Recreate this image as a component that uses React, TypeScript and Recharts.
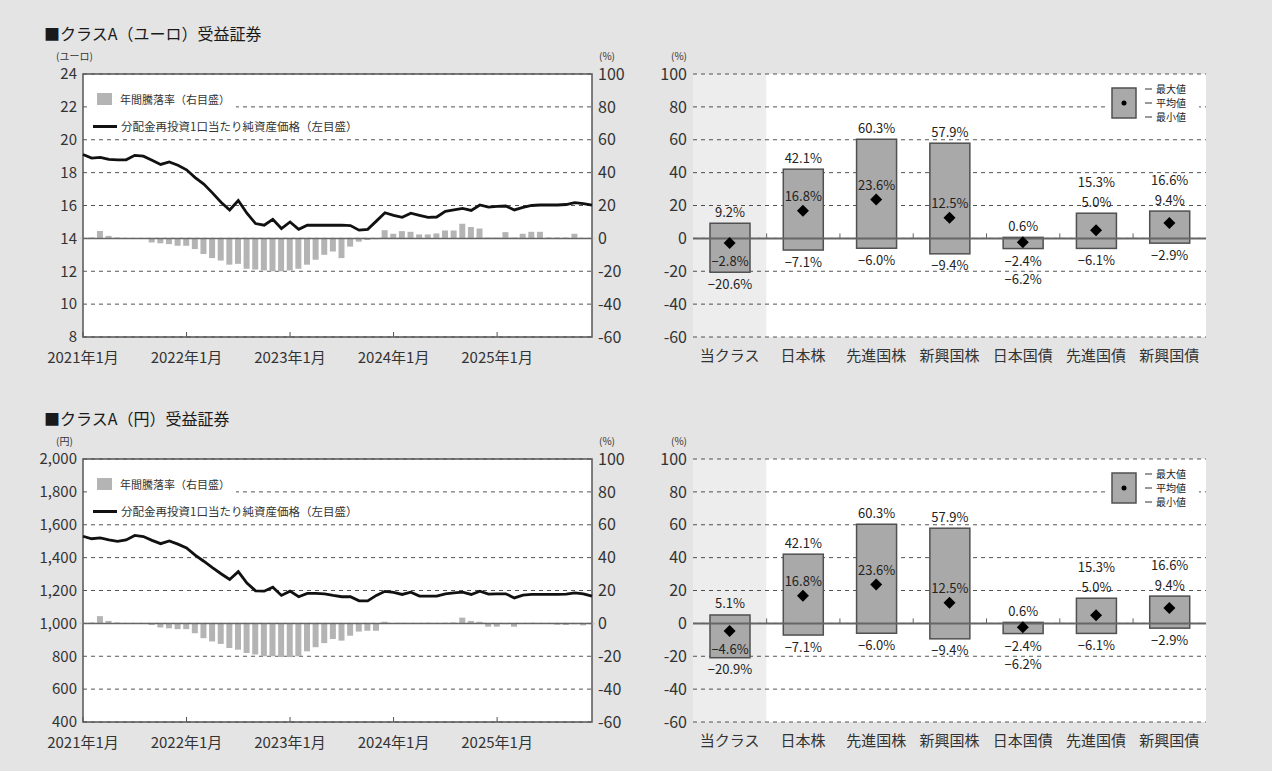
import React from 'react';
import {
  ComposedChart,
  Bar,
  Line,
  XAxis,
  YAxis,
  CartesianGrid,
  ReferenceLine,
  ReferenceArea,
} from 'recharts';

// ---------- data ----------
const monthTickIndex = [0, 12, 24, 36, 48];
const monthTickLabels = ['2021年1月', '2022年1月', '2023年1月', '2024年1月', '2025年1月'];

// クラスA（ユーロ）: NAV (left axis, ユーロ) and annual return (right axis, %)
const eurNav = [
  19.1, 18.88, 18.93, 18.8, 18.77, 18.78, 19.05, 19.0, 18.75, 18.5,
  18.65, 18.45, 18.17, 17.7, 17.3, 16.77, 16.2, 15.73, 16.3, 15.53,
  14.9, 14.8, 15.16, 14.6, 15.0, 14.55, 14.8, 14.8, 14.8, 14.8,
  14.8, 14.78, 14.5, 14.55, 15.05, 15.56, 15.4, 15.28, 15.53, 15.4,
  15.28, 15.3, 15.65, 15.73, 15.82, 15.7, 16.03, 15.9, 15.95, 15.97,
  15.73, 15.88, 16.0, 16.03, 16.03, 16.03, 16.06, 16.17, 16.12, 16.03,
];
const eurReturn = [
  0.3, 0.5, 4.5, 1.5, 0.5, 0.3, 0.2, 0, -2.5, -3,
  -3.5, -4.5, -4.5, -6.5, -9.5, -12, -13.5, -16, -15.5, -18.5,
  -19, -19.5, -20, -20, -19.5, -18.5, -16, -13, -10, -8,
  -12, -5, -2, -1, -0.5, 5, 2.8, 4.4, 4, 2.4,
  2.4, 3, 4.8, 4.8, 8.9, 6.9, 6, 0.5, 0.5, 3.8,
  0.5, 2.8, 4, 4, 0.5, 0.5, 0.5, 2.8, 0.3, 0.3,
];

// クラスA（円）
const jpyNav = [
  1530, 1515, 1520, 1508, 1499, 1508, 1535, 1528, 1505, 1485,
  1502, 1482, 1459, 1415, 1378, 1339, 1302, 1267, 1315, 1245,
  1198, 1196, 1220, 1170, 1196, 1162, 1182, 1182, 1180, 1170,
  1162, 1162, 1137, 1137, 1170, 1195, 1188, 1176, 1190, 1166,
  1166, 1166, 1180, 1186, 1190, 1176, 1196, 1178, 1180, 1180,
  1155, 1172, 1176, 1176, 1176, 1176, 1178, 1186, 1180, 1166,
];
const jpyReturn = [
  0.3, 0.5, 4.4, 1.5, 0.5, 0.3, 0.2, 0, -1, -2.5,
  -3, -3.5, -3.5, -6, -9, -11, -12.5, -15, -16, -18,
  -19, -20, -20, -20.5, -20.5, -20, -17, -14.5, -12, -9.5,
  -10.5, -7.5, -5, -4.5, -4.5, 1, -0.3, 0.3, -0.3, -0.3,
  0.3, -0.3, 0.3, 0.5, 3.5, 1.5, 1, -2, -2, -0.5,
  -2, -0.3, 0.3, -0.3, -0.3, -0.8, -1, -0.5, -1.2, -0.5,
];

const eurLeftTicks = [8, 10, 12, 14, 16, 18, 20, 22, 24];
const jpyLeftTicks = [400, 600, 800, 1000, 1200, 1400, 1600, 1800, 2000];
const pctTicks = [-60, -40, -20, 0, 20, 40, 60, 80, 100];

const assetClasses = ['当クラス', '日本株', '先進国株', '新興国株', '日本国債', '先進国債', '新興国債'];
const eurBoxMax = [9.2, 42.1, 60.3, 57.9, 0.6, 15.3, 16.6];
const eurBoxAvg = [-2.8, 16.8, 23.6, 12.5, -2.4, 5.0, 9.4];
const eurBoxMin = [-20.6, -7.1, -6.0, -9.4, -6.2, -6.1, -2.9];
const jpyBoxMax = [5.1, 42.1, 60.3, 57.9, 0.6, 15.3, 16.6];
const jpyBoxAvg = [-4.6, 16.8, 23.6, 12.5, -2.4, 5.0, 9.4];
const jpyBoxMin = [-20.9, -7.1, -6.0, -9.4, -6.2, -6.1, -2.9];

// ---------- build tables ----------
const eurSeries = eurNav.map((nav, i) => ({ i, nav, ret: eurReturn[i] }));
const jpySeries = jpyNav.map((nav, i) => ({ i, nav, ret: jpyReturn[i] }));
const makeBoxes = (mx: number[], av: number[], mn: number[]) =>
  assetClasses.map((name, k) => ({ name, range: [mn[k], mx[k]], max: mx[k], avg: av[k], min: mn[k] }));
const eurBoxes = makeBoxes(eurBoxMax, eurBoxAvg, eurBoxMin);
const jpyBoxes = makeBoxes(jpyBoxMax, jpyBoxAvg, jpyBoxMin);

// ---------- styles ----------
const FONT = '"Noto Sans CJK JP", "Noto Sans", sans-serif';
const BG = '#e4e4e4';
const GRID = '#555';
const TXT = '#333';
const BOX_PLOT_W = 513;
const BAND = BOX_PLOT_W / assetClasses.length;

const fmt = (v: number) => (v < 0 ? '−' : '') + Math.abs(v).toFixed(1) + '%';

function BoxShape(props: any) {
  const { x, y, width, height, payload, index } = props;
  if (!payload) return null;
  const top = height >= 0 ? y : y + height;
  const h = Math.abs(height);
  const bottom = top + h;
  const { max, min, avg } = payload;
  const k = h / (max - min);
  const yOf = (v: number) => top + (max - v) * k;
  const cx = x + width / 2;
  const zeroY = yOf(0);
  const avgY = yOf(avg);
  let maxLabelY = top - 6.5;
  let minLabelY = bottom + 16.5;
  let avgLabelY: number;
  if (max - min >= 30) {
    avgLabelY = avgY - 9.5;
  } else if (avg > 0) {
    avgLabelY = top - 6.5;
    maxLabelY = top - 26;
  } else if (max > 3) {
    avgLabelY = avgY + 23;
  } else {
    avgLabelY = bottom + 17;
    minLabelY = bottom + 35;
  }
  const bandLeft = x - (BAND - width) / 2;
  const ts = { fontSize: 13, fill: '#222', textAnchor: 'middle' as const };
  return (
    <g>
      <rect x={x} y={top} width={width} height={h} fill="#a9a9a9" stroke="#505050" strokeWidth={1.5} />
      {index > 0 && <line x1={bandLeft} x2={bandLeft} y1={zeroY} y2={zeroY - 5} stroke="#666" strokeWidth={1} />}
      <text x={cx} y={maxLabelY} {...ts}>{fmt(max)}</text>
      <text x={cx} y={avgLabelY} {...ts}>{fmt(avg)}</text>
      <text x={cx} y={minLabelY} {...ts}>{fmt(min)}</text>
    </g>
  );
}

function AvgDot(props: any) {
  const { cx, cy, index } = props;
  if (cx == null || cy == null) return <g key={index} />;
  const r = 6;
  return (
    <path
      key={index}
      d={`M${cx},${cy - r} L${cx + r},${cy} L${cx},${cy + r} L${cx - r},${cy} Z`}
      fill="#000"
    />
  );
}

function NavChart({ top, data, leftDomain, leftTicks, leftFmt }: any) {
  return (
    <div style={{ position: 'absolute', left: 0, top, width: 650, height: 380 }}>
      <ComposedChart width={650} height={380} data={data} margin={{ top: 74, right: 10, bottom: 13, left: 43 }}>
        <CartesianGrid yAxisId="left" vertical={false} stroke={GRID} strokeDasharray="4 4" fill="#fff" />
        <XAxis
          dataKey="i"
          type="number"
          domain={[0, 59]}
          ticks={monthTickIndex}
          interval={0}
          tickFormatter={(v: number) => monthTickLabels[monthTickIndex.indexOf(v)] ?? ''}
          tickSize={-5}
          tickMargin={20}
          axisLine={false}
          tickLine={{ stroke: '#555' }}
          tick={{ fontSize: 15, fill: TXT }}
          height={30}
        />
        <YAxis
          yAxisId="left"
          domain={leftDomain}
          ticks={leftTicks}
          interval={0}
          tickFormatter={leftFmt}
          axisLine={false}
          tickLine={false}
          tickMargin={0}
          tick={{ fontSize: 15, fill: TXT }}
          width={40}
        />
        <YAxis
          yAxisId="right"
          orientation="right"
          domain={[-60, 100]}
          ticks={pctTicks}
          interval={0}
          axisLine={false}
          tickLine={false}
          tickMargin={0}
          tick={{ fontSize: 16, fill: TXT }}
          width={48}
        />
        <Bar yAxisId="right" dataKey="ret" barSize={6} fill="#b4b4b4" isAnimationActive={false} />
        <ReferenceLine yAxisId="right" y={0} stroke="#666" strokeWidth={1.5} />
        <Line
          yAxisId="left"
          dataKey="nav"
          type="linear"
          stroke="#111"
          strokeWidth={2.8}
          dot={false}
          activeDot={false}
          isAnimationActive={false}
        />
        <ReferenceArea
          yAxisId="left"
          x1={0}
          x2={59}
          y1={leftDomain[0]}
          y2={leftDomain[1]}
          fill="none"
          stroke="#555"
          strokeWidth={1.5}
        />
      </ComposedChart>
      <div
        style={{
          position: 'absolute', left: 90, top: 88, width: 146, height: 22, background: '#fff',
          display: 'flex', alignItems: 'center', fontSize: 11, color: TXT, whiteSpace: 'nowrap',
        }}
      >
        <span style={{ display: 'inline-block', width: 15, height: 12, background: '#b4b4b4', marginLeft: 7, marginRight: 8 }} />
        年間騰落率（右目盛）
      </div>
      <div
        style={{
          position: 'absolute', left: 90, top: 116, width: 272, height: 20, background: '#fff',
          display: 'flex', alignItems: 'center', fontSize: 11.5, color: TXT, whiteSpace: 'nowrap',
        }}
      >
        <span style={{ display: 'inline-block', width: 24, height: 3, background: '#111', marginLeft: 3, marginRight: 4 }} />
        分配金再投資1口当たり純資産価格（左目盛）
      </div>
    </div>
  );
}

function BoxChart({ top, data }: any) {
  return (
    <div style={{ position: 'absolute', left: 640, top, width: 580, height: 380 }}>
      <ComposedChart width={580} height={380} data={data} margin={{ top: 74, right: 14, bottom: 13, left: 13 }}>
        <CartesianGrid vertical={false} stroke={GRID} strokeDasharray="4 4" fill="#fff" />
        <XAxis
          dataKey="name"
          type="category"
          interval={0}
          tickLine={false}
          axisLine={false}
          tickMargin={7}
          tick={{ fontSize: 15, fill: TXT }}
          height={30}
        />
        <YAxis
          domain={[-60, 100]}
          ticks={pctTicks}
          interval={0}
          axisLine={false}
          tickLine={false}
          tickMargin={0}
          tick={{ fontSize: 16, fill: TXT }}
          width={40}
        />
        <ReferenceArea x1="当クラス" x2="当クラス" y1={-60} y2={100} fill="#000" fillOpacity={0.07} stroke="none" />
        <Bar dataKey="range" barSize={40} shape={BoxShape} isAnimationActive={false} />
        <ReferenceLine y={0} stroke="#666" strokeWidth={2} />
        <Line dataKey="avg" stroke="none" dot={AvgDot} activeDot={false} isAnimationActive={false} />
        <ReferenceArea
          x1="当クラス"
          x2="新興国債"
          y1={-60}
          y2={100}
          fill="none"
          stroke="#555"
          strokeWidth={1.5}
        />
      </ComposedChart>
      <div style={{ position: 'absolute', left: 465, top: 82, width: 94, height: 44, background: '#fff' }}>
        <svg width={94} height={44} style={{ position: 'absolute', left: 0, top: 0, overflow: 'visible' }}>
          <rect x={7} y={6} width={24} height={30} fill="#a9a9a9" stroke="#505050" strokeWidth={1.5} />
          <circle cx={19} cy={21} r={2.5} fill="#000" />
          <line x1={40} x2={47} y1={7} y2={7} stroke="#333" />
          <line x1={40} x2={47} y1={21} y2={21} stroke="#333" />
          <line x1={40} x2={47} y1={35} y2={35} stroke="#333" />
          <text x={51} y={11} fontSize={10} fill="#222">最大値</text>
          <text x={51} y={25} fontSize={10} fill="#222">平均値</text>
          <text x={51} y={39} fontSize={10} fill="#222">最小値</text>
        </svg>
      </div>
    </div>
  );
}

function Section({ top, title, unit, series, leftDomain, leftTicks, leftFmt, boxes }: any) {
  const unitStyle = { position: 'absolute' as const, top: top + 50, fontSize: 10, lineHeight: '11px', color: TXT, whiteSpace: 'nowrap' as const };
  return (
    <>
      <div style={{ position: 'absolute', left: 44, top: top + 23, fontSize: 16, lineHeight: '20px', color: '#1a1a1a', whiteSpace: 'nowrap' }}>
        {title}
      </div>
      <NavChart top={top} data={series} leftDomain={leftDomain} leftTicks={leftTicks} leftFmt={leftFmt} />
      <BoxChart top={top} data={boxes} />
      <div style={{ ...unitStyle, left: 56 }}>{unit}</div>
      <div style={{ ...unitStyle, left: 599 }}>(%)</div>
      <div style={{ ...unitStyle, left: 671 }}>(%)</div>
    </>
  );
}

export default function App() {
  return (
    <div
      style={{
        position: 'absolute', left: 0, top: 0, width: 1272, height: 771, background: BG,
        fontFamily: FONT, overflow: 'hidden',
      }}
    >
      <Section
        top={0}
        title="■クラスA（ユーロ）受益証券"
        unit="(ユーロ)"
        series={eurSeries}
        leftDomain={[8, 24]}
        leftTicks={eurLeftTicks}
        leftFmt={(v: number) => String(v)}
        boxes={eurBoxes}
      />
      <Section
        top={385}
        title="■クラスA（円）受益証券"
        unit="(円)"
        series={jpySeries}
        leftDomain={[400, 2000]}
        leftTicks={jpyLeftTicks}
        leftFmt={(v: number) => v.toLocaleString('en-US')}
        boxes={jpyBoxes}
      />
    </div>
  );
}
